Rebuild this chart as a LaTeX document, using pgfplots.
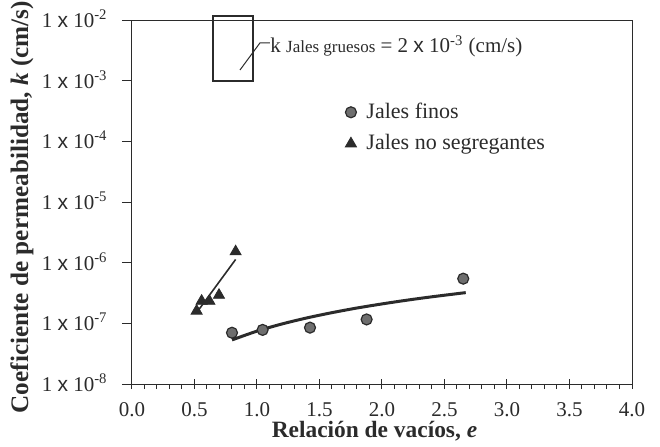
\documentclass[border=0pt]{standalone}
\usepackage{fontspec}
\setmainfont{Liberation Serif}
\newfontfamily\arial{Liberation Sans}
\usepackage{pgfplots}
\pgfplotsset{compat=1.18}
\definecolor{ink}{HTML}{2B2B2B}
\definecolor{dotgray}{HTML}{6E6E6E}
\newcommand{\ex}[1]{1 {\arial x} 10\textsuperscript{#1}}

\begin{document}
\begin{tikzpicture}
\useasboundingbox (-66pt,-31pt) rectangle (264pt,192pt);
\begin{axis}[
    width=250pt, height=182pt, scale only axis,
    xmin=0, xmax=4, ymin=1e-8, ymax=1e-2, ymode=log,
    clip=false,
    axis line style={ink, line width=0.5pt},
    tick style={ink, line width=0.5pt},
    tick align=outside, tick pos=left,
    major tick length=5pt, minor tick length=2.5pt,
    major x tick style={yshift=2.5pt, xshift=0pt},
    xtick={0,0.5,1,1.5,2,2.5,3,3.5,4}, minor x tick num=4,
    xticklabels={0.0,0.5,1.0,1.5,2.0,2.5,3.0,3.5,4.0},
    ytick={1e-8,1e-7,1e-6,1e-5,1e-4,1e-3,1e-2},
    yticklabels={\ex{-8},\ex{-7},\ex{-6},\ex{-5},\ex{-4},\ex{-3},\ex{-2}},
    yminorticks=false,
    ticklabel style={font=\fontsize{10.5}{12}\selectfont, text=ink},
    xticklabel style={anchor=base, inner sep=0pt, yshift=-11pt},
    yticklabel style={anchor=base east, inner sep=0pt, xshift=-7pt, yshift=-3.8pt},
    xlabel={Relación de vacíos, \textit{e}},
    ylabel={Coeficiente de permeabilidad, \textit{k} (cm/s)},
    label style={font=\fontsize{11.7}{14}\selectfont\bfseries, text=ink, inner sep=0pt},
    xlabel style={at={(axis description cs:0.485,-0.1456)}, anchor=base},
    ylabel style={at={(axis description cs:-0.208,0.486)}, anchor=base,
        font=\fontsize{12.6}{15}\selectfont\bfseries},
    legend style={draw=none, fill=none, at={(0.414,0.795)}, anchor=north west,
        font=\fontsize{11}{13}\selectfont, text=ink, row sep=2.5pt, column sep=3pt},
    legend cell align=left,
]

% fitted curves
\addplot[ink, line width=1.5pt, smooth, forget plot] coordinates {
    (0.80,5.33e-8) (1.0,7.44e-8) (1.2,9.77e-8) (1.4,1.23e-7) (1.6,1.50e-7)
    (1.8,1.79e-7) (2.0,2.09e-7) (2.2,2.41e-7) (2.4,2.74e-7) (2.67,3.21e-7)
};
\addplot[ink, line width=0.8pt, forget plot] coordinates {
    (0.517,1.5e-7) (0.829,1.13e-6)
};

% Jales finos
\addplot[only marks, mark=*, mark size=2.75pt,
    mark options={fill=dotgray, draw=ink, line width=0.6pt}] coordinates {
    (0.80,7.0e-8) (1.045,7.8e-8) (1.424,8.5e-8) (1.877,1.16e-7) (2.65,5.45e-7)
};
\addlegendentry{Jales finos}

% Jales no segregantes
\addplot[only marks, mark=triangle*, mark size=3.2pt,
    mark options={fill=ink, draw=ink}] coordinates {
    (0.517,1.6e-7) (0.557,2.33e-7) (0.619,2.33e-7) (0.696,2.92e-7) (0.829,1.52e-6)
};
\addlegendentry{Jales no segregantes}

% jales gruesos box and leader
\addplot[ink, line width=1pt, forget plot] coordinates {
    (0.65,1e-3) (0.97,1e-3) (0.97,1.16e-2) (0.65,1.16e-2)
} -- cycle;
\addplot[ink, line width=0.5pt, forget plot] coordinates {
    (0.864,1.5e-3) (1.024,4.2e-3) (1.104,4.2e-3)
};
\node[anchor=base west, inner sep=0pt, text=ink] at (axis cs:1.104,2.86e-3)
    {\fontsize{10.5}{12}\selectfont k {\fontsize{8.5}{10}\selectfont Jales gruesos} = 2 {\arial x} 10\textsuperscript{-3} (cm/s)};

\end{axis}
\end{tikzpicture}
\end{document}
